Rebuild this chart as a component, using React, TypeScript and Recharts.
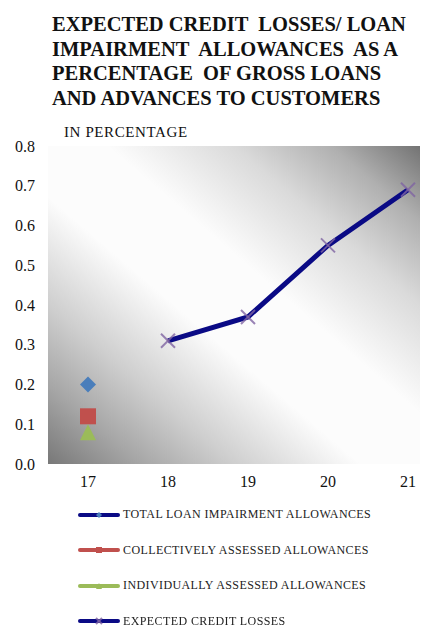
import { LineChart, Line, XAxis, YAxis, CartesianGrid, Legend } from 'recharts'

const YEARS = ['17', '18', '19', '20', '21']
const TOTAL_IMPAIRMENT = [0.2, null, null, null, null]
const COLLECTIVE = [0.12, null, null, null, null]
const INDIVIDUAL = [0.08, null, null, null, null]
const ECL = [null, 0.31, 0.37, 0.55, 0.69]
const Y_TICKS = [0, 0.1, 0.2, 0.3, 0.4, 0.5, 0.6, 0.7, 0.8]

const TITLE_LINES = [
  'EXPECTED CREDIT  LOSSES/ LOAN',
  'IMPAIRMENT  ALLOWANCES  AS A',
  'PERCENTAGE  OF GROSS LOANS',
  'AND ADVANCES TO CUSTOMERS',
]

const SERIF = "'Liberation Serif', 'DejaVu Serif', serif"
const NAVY = '#0a0a85'

type Shape = 'diamond' | 'square' | 'triangle' | 'cross'

const SERIES: { key: string; name: string; line: string; marker: string; shape: Shape }[] = [
  { key: 'total', name: 'TOTAL LOAN IMPAIRMENT ALLOWANCES', line: NAVY, marker: '#4a7ebb', shape: 'diamond' },
  { key: 'collective', name: 'COLLECTIVELY ASSESSED ALLOWANCES', line: '#c0504d', marker: '#c0504d', shape: 'square' },
  { key: 'individual', name: 'INDIVIDUALLY ASSESSED ALLOWANCES', line: '#9bbb59', marker: '#9bbb59', shape: 'triangle' },
  { key: 'ecl', name: 'EXPECTED CREDIT LOSSES', line: NAVY, marker: '#8064a2', shape: 'cross' },
]

const data = YEARS.map((year, i) => ({
  year,
  total: TOTAL_IMPAIRMENT[i],
  collective: COLLECTIVE[i],
  individual: INDIVIDUAL[i],
  ecl: ECL[i],
}))

function marker(shape: Shape, color: string, cx: number, cy: number, r: number, key?: string) {
  if (shape === 'diamond')
    return <polygon key={key} points={`${cx},${cy - r} ${cx + r},${cy} ${cx},${cy + r} ${cx - r},${cy}`} fill={color} />
  if (shape === 'square')
    return <rect key={key} x={cx - r} y={cy - r} width={r * 2} height={r * 2} fill={color} />
  if (shape === 'triangle')
    return <polygon key={key} points={`${cx},${cy - r} ${cx + r},${cy + r} ${cx - r},${cy + r}`} fill={color} />
  return (
    <g key={key} stroke={color} strokeWidth={2} strokeOpacity={0.8}>
      <line x1={cx - r} y1={cy - r} x2={cx + r} y2={cy + r} />
      <line x1={cx - r} y1={cy + r} x2={cx + r} y2={cy - r} />
    </g>
  )
}

const dotFor = (shape: Shape, color: string, r: number) => (p: any) => {
  if (p.value == null || p.cx == null || p.cy == null) return <g key={p.key} />
  return marker(shape, color, p.cx, p.cy, r, p.key)
}

const LegendContent = () => (
  <div style={{ fontFamily: SERIF }}>
    {SERIES.map((s) => (
      <div key={s.key} style={{ display: 'flex', alignItems: 'center', height: 35.5 }}>
        <svg width={42} height={10}>
          <line x1={2} y1={5} x2={40} y2={5} stroke={s.line} strokeWidth={4} strokeLinecap="round" />
          {marker(s.shape, s.marker, 21, 5, 3)}
        </svg>
        <span style={{ marginLeft: 3, fontSize: 12, letterSpacing: 0.4, color: '#222', whiteSpace: 'nowrap' }}>
          {s.name}
        </span>
      </div>
    ))}
  </div>
)

export default function App() {
  return (
    <div style={{ position: 'fixed', left: 0, top: 0, width: 433, height: 627, background: '#fff', fontFamily: SERIF }}>
      {TITLE_LINES.map((t, i) => (
        <div
          key={i}
          style={{
            position: 'absolute',
            left: 52,
            top: 12 + i * 24.7,
            fontWeight: 'bold',
            fontSize: 20.5,
            lineHeight: '24.7px',
            whiteSpace: 'pre',
            color: '#111',
          }}
        >
          {t}
        </div>
      ))}
      <div
        style={{
          position: 'absolute',
          left: 64,
          top: 123.5,
          fontSize: 15,
          letterSpacing: 0.6,
          lineHeight: '17px',
          color: '#111',
        }}
      >
        IN PERCENTAGE
      </div>
      <LineChart width={433} height={627} data={data} margin={{ top: 146, right: 13, bottom: 133, left: 0 }}>
        <defs>
          <linearGradient id="plotBg" x1="0" y1="1" x2="1" y2="0">
            <stop offset="0" stopColor="#787878" />
            <stop offset="0.125" stopColor="#a6a6a6" />
            <stop offset="0.25" stopColor="#cecece" />
            <stop offset="0.42" stopColor="#fcfcfc" />
            <stop offset="0.58" stopColor="#fcfcfc" />
            <stop offset="0.75" stopColor="#dadada" />
            <stop offset="0.88" stopColor="#b0b0b0" />
            <stop offset="1" stopColor="#737373" />
          </linearGradient>
        </defs>
        <CartesianGrid horizontal={false} vertical={false} fill="url(#plotBg)" />
        <XAxis
          dataKey="year"
          scale="point"
          padding={{ left: 40, right: 12 }}
          axisLine={false}
          tickLine={false}
          tickSize={0}
          tickMargin={12}
          tick={{ fontSize: 16, fill: '#111', fontFamily: SERIF }}
        />
        <YAxis
          width={48}
          domain={[0, 0.8]}
          ticks={Y_TICKS}
          interval={0}
          axisLine={false}
          tickLine={false}
          tickSize={0}
          tickMargin={13}
          tickFormatter={(v) => Number(v).toFixed(1)}
          tick={{ fontSize: 16, fill: '#111', fontFamily: SERIF }}
        />
        {SERIES.map((s) => (
          <Line
            key={s.key}
            dataKey={s.key}
            name={s.name}
            stroke={s.line}
            strokeWidth={5}
            dot={dotFor(s.shape, s.marker, s.shape === 'cross' ? 7 : 8)}
            activeDot={false}
            isAnimationActive={false}
          />
        ))}
        <Legend
          layout="vertical"
          align="center"
          verticalAlign="middle"
          content={LegendContent}
          wrapperStyle={{ position: 'absolute', left: 78, top: 497, width: 350 }}
        />
      </LineChart>
    </div>
  )
}
